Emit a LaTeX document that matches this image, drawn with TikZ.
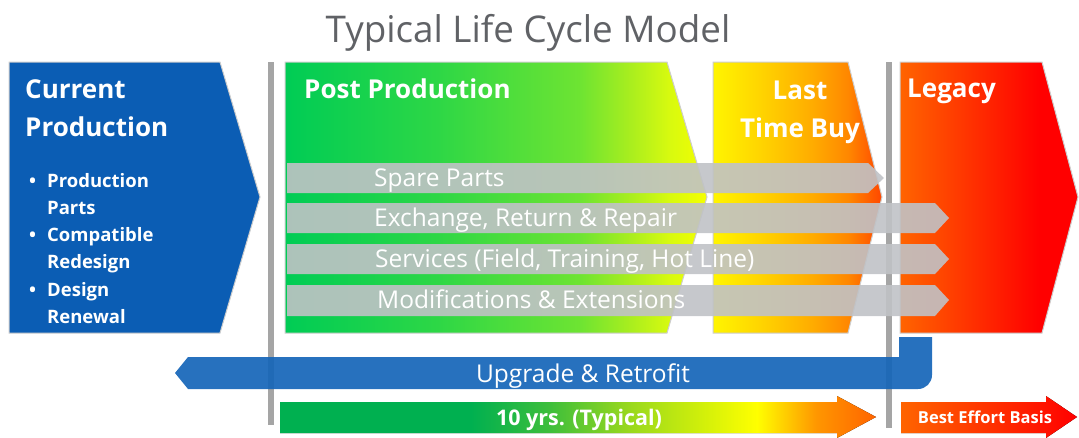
\documentclass[tikz,border=0pt]{standalone}
\usepackage{fontspec}
\setmainfont{Open Sans}
\usetikzlibrary{positioning}

\definecolor{cpblue}{RGB}{11,93,180}
\definecolor{upblue}{RGB}{21,101,184}
\definecolor{barGray}{RGB}{192,194,198}
\definecolor{lineGray}{RGB}{165,165,165}
\definecolor{titleGray}{RGB}{96,98,102}
\definecolor{edgeGray}{RGB}{205,205,205}
\definecolor{ppA}{RGB}{0,204,85}
\definecolor{ppB}{RGB}{45,215,70}
\definecolor{ppC}{RGB}{110,228,50}
\definecolor{ppD}{RGB}{170,238,30}
\definecolor{ppE}{RGB}{215,250,15}
\definecolor{ppF}{RGB}{245,255,0}
\definecolor{ltA}{RGB}{255,245,0}
\definecolor{ltB}{RGB}{255,210,0}
\definecolor{ltC}{RGB}{255,170,0}
\definecolor{ltD}{RGB}{255,135,0}
\definecolor{ltE}{RGB}{255,70,0}
\definecolor{lgA}{RGB}{255,100,0}
\definecolor{lgB}{RGB}{255,0,0}
\definecolor{tyA}{RGB}{0,176,80}
\definecolor{tyB}{RGB}{60,190,60}
\definecolor{tyC}{RGB}{150,215,30}
\definecolor{tyD}{RGB}{210,240,10}
\definecolor{tyE}{RGB}{255,255,0}
\definecolor{tyF}{RGB}{255,150,0}
\definecolor{tyG}{RGB}{255,100,0}

\pgfdeclarehorizontalshading{postshade}{100bp}{color(0bp)=(ppA); color(25bp)=(ppA); color(43bp)=(ppB); color(60bp)=(ppC); color(66bp)=(ppD); color(70.5bp)=(ppE); color(75bp)=(ppF); color(100bp)=(ppF)}
\pgfdeclarehorizontalshading{lastshade}{100bp}{color(0bp)=(ltA); color(25bp)=(ltA); color(40bp)=(ltB); color(55bp)=(ltC); color(65bp)=(ltD); color(75bp)=(ltE); color(100bp)=(ltE)}
\pgfdeclarehorizontalshading{legacyshade}{100bp}{color(0bp)=(lgA); color(25bp)=(lgA); color(64bp)=(lgB); color(100bp)=(lgB)}
\pgfdeclarehorizontalshading{yearshade}{100bp}{color(0bp)=(tyA); color(25bp)=(tyA); color(41bp)=(tyA); color(47.5bp)=(tyB); color(54bp)=(tyC); color(60.5bp)=(tyD); color(65bp)=(tyE); color(70bp)=(tyF); color(75bp)=(tyG); color(100bp)=(tyG)}

\begin{document}
\begin{tikzpicture}[x=1pt, y=-1pt,
    box/.style={draw=edgeGray, line width=1pt},
    sepline/.style={fill=lineGray},
    bar/.style={fill=barGray, fill opacity=0.9},
    head/.style={text=white, inner sep=0pt, anchor=base west,
      font=\bfseries\fontsize{26}{30}\selectfont},
    item/.style={text=white, inner sep=0pt, anchor=base west,
      font=\bfseries\fontsize{18.5}{21}\selectfont},
    bartext/.style={text=white, inner sep=0pt, anchor=base west,
      font=\fontsize{24.5}{28}\selectfont}]
  \useasboundingbox (0,0) rectangle (1079,437);

  % title
  \node[text=titleGray, inner sep=0pt, anchor=base, font=\fontsize{36.8}{40}\selectfont]
    (title) at (528,42) {Typical Life Cycle Model};

  % phases
  \draw[box, fill=cpblue] (9,62) -- (220,62) -- (260,197) -- (220,333) -- (9,333) -- cycle;
  \draw[box, shading=postshade] (285,62) -- (667,62) -- (707,197) -- (667,333) -- (285,333) -- cycle;
  \draw[box, shading=lastshade] (713,62) -- (848,62) -- (882,197) -- (848,333) -- (713,333) -- cycle;
  \draw[box, shading=legacyshade] (900,62) -- (1042,62) -- (1078,197) -- (1042,333) -- (900,333) -- cycle;

  \node[head] (cur1) at (25,98) {Current};
  \node[head] (cur2) at (25,136) {Production};
  \foreach \yy/\la/\lb in {187/Production/Parts, 241/Compatible/Redesign, 296/Design/Renewal} {
    \node[item] at (29,\yy) {•};
    \node[item] (\la) at (47,\yy) {\la};
    \node[item] at (47,\yy+27) {\lb};
  }
  \node[head] (post) at (304,98) {Post Production};
  \node[head, anchor=base] (last1) at (800,99) {Last};
  \node[head, anchor=base] (last2) at (800,137) {Time Buy};
  \node[head] (legacy) at (907,97) {Legacy};

  % separators
  \fill[sepline] (268,62) rectangle (274,425);
  \fill[sepline] (886,62) rectangle (892,428);

  % support bars
  \fill[bar] (287,163) -- (868,163) -- (884,178) -- (868,193) -- (287,193) -- cycle;
  \fill[bar] (287,203) -- (935,203) -- (949,218) -- (935,233) -- (287,233) -- cycle;
  \fill[bar] (287,244) -- (935,244) -- (949,259) -- (935,274) -- (287,274) -- cycle;
  \fill[bar] (287,285) -- (935,285) -- (949,300) -- (935,316) -- (287,316) -- cycle;
  \node[bartext] (spare) at (374,186) {Spare Parts};
  \node[bartext] (exch) at (374,226) {Exchange, Return \& Repair};
  \node[bartext] (serv) at (375,267) {Services (Field, Training, Hot Line)};
  \node[bartext] (mods) at (377,308) {Modifications \& Extensions};

  % upgrade
  \fill[upblue, fill opacity=0.92] (175,373) -- (188,357) -- (899,357) -- (899,337) -- (932,337)
    -- (932,375) arc[start angle=0, end angle=90, radius=14] -- (188,389) -- cycle;
  \node[bartext, anchor=base] (upg) at (583,382) {Upgrade \& Retrofit};

  % time line
  \fill[shading=yearshade] (280,402) -- (837,402) -- (837,396) -- (876,417) -- (837,438)
    -- (837,433) -- (280,433) -- cycle;
  \fill[left color=lgA, right color=lgB] (901,402) -- (1046,402) -- (1046,396) -- (1077,417)
    -- (1046,438) -- (1046,433) -- (901,433) -- cycle;
  \node[item, anchor=base, font=\bfseries\fontsize{21.5}{24}\selectfont] (yrs) at (579,425) {10 yrs. (Typical)};
  \node[item, anchor=base, font=\bfseries\fontsize{16.5}{18}\selectfont] (best) at (985,423) {Best Effort Basis};
\end{tikzpicture}
\end{document}
